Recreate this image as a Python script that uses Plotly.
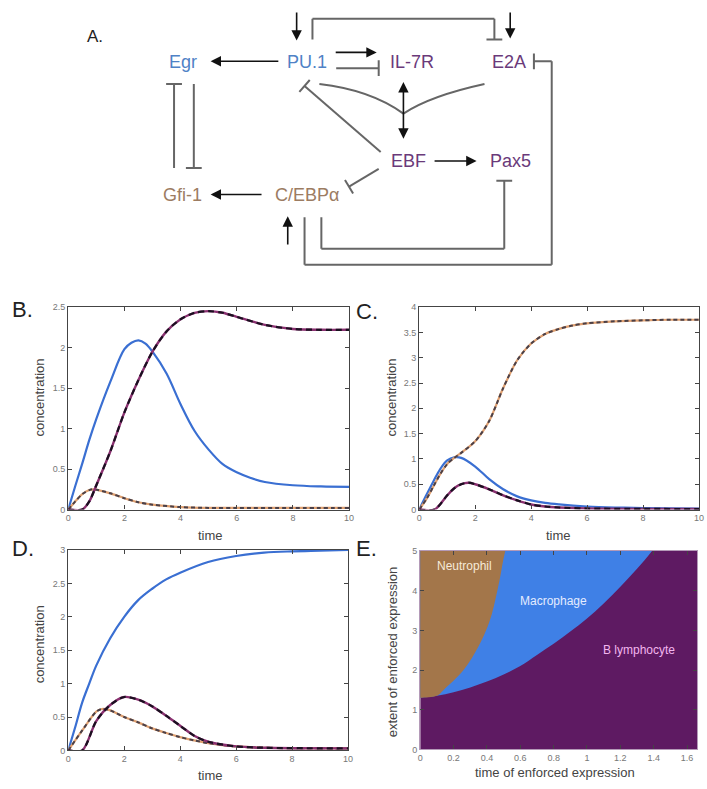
import plotly.graph_objects as go

W, H = 707, 789

# ---------------- data ----------------
# Panel B
tB_blue = [0, 0.25, 0.5, 0.75, 1, 1.5, 2, 2.25, 2.5, 2.75, 3, 3.5, 4, 4.5, 5, 5.5, 6, 6.5, 7, 8, 9, 10]
yB_blue = [0, 0.29, 0.57, 0.86, 1.12, 1.58, 1.98, 2.06, 2.09, 2.05, 1.95, 1.68, 1.3, 0.97, 0.74, 0.56, 0.46, 0.39, 0.34, 0.3, 0.285, 0.28]
tB_purple = [0, 0.5, 0.75, 1, 1.5, 2, 2.5, 3, 3.5, 4, 4.5, 5, 5.5, 6, 7, 8, 9, 10]
yB_purple = [0, 0, 0.1, 0.3, 0.72, 1.2, 1.6, 1.95, 2.2, 2.35, 2.43, 2.45, 2.43, 2.38, 2.28, 2.23, 2.22, 2.22]
tB_brown = [0, 0.25, 0.5, 0.75, 0.9, 1.5, 2, 2.5, 3, 4, 5, 6, 8, 10]
yB_brown = [0, 0.1, 0.19, 0.24, 0.25, 0.2, 0.14, 0.09, 0.06, 0.03, 0.02, 0.02, 0.02, 0.02]

# Panel C
tC_brown = [0, 0.25, 0.5, 0.75, 1, 1.25, 1.5, 2, 2.5, 3, 3.5, 4, 4.5, 5, 5.5, 6, 7, 8, 9, 10]
yC_brown = [0, 0.2, 0.45, 0.7, 0.9, 1.02, 1.12, 1.35, 1.75, 2.4, 2.95, 3.28, 3.47, 3.57, 3.64, 3.68, 3.72, 3.74, 3.75, 3.75]
tC_blue = [0, 0.25, 0.5, 0.75, 1, 1.25, 1.5, 2, 2.5, 3, 3.5, 4, 4.5, 5, 6, 7, 8, 10]
yC_blue = [0, 0.28, 0.55, 0.8, 0.97, 1.03, 1.02, 0.85, 0.6, 0.4, 0.26, 0.18, 0.13, 0.1, 0.06, 0.04, 0.03, 0.02]
tC_purple = [0, 0.55, 1, 1.25, 1.5, 1.75, 2, 2.5, 3, 3.5, 4, 4.5, 5, 6, 10]
yC_purple = [0, 0, 0.28, 0.42, 0.5, 0.53, 0.5, 0.4, 0.28, 0.18, 0.1, 0.06, 0.04, 0.02, 0.01]

# Panel D
tD_blue = [0, 0.25, 0.5, 0.75, 1, 1.5, 2, 2.5, 3, 3.5, 4, 5, 6, 7, 8, 9, 10]
yD_blue = [0, 0.35, 0.72, 1.0, 1.27, 1.68, 2.0, 2.25, 2.42, 2.56, 2.66, 2.82, 2.91, 2.96, 2.98, 2.99, 3.0]
tD_purple = [0, 0.5, 1, 1.5, 2, 2.5, 3, 3.5, 4, 4.5, 5, 6, 7, 10]
yD_purple = [0, 0, 0.44, 0.68, 0.8, 0.76, 0.66, 0.52, 0.37, 0.22, 0.13, 0.06, 0.04, 0.03]
tD_brown = [0, 0.5, 1, 1.2, 1.5, 2, 2.5, 3, 3.5, 4, 4.5, 5, 6, 7, 10]
yD_brown = [0, 0.3, 0.58, 0.62, 0.6, 0.5, 0.42, 0.33, 0.26, 0.2, 0.15, 0.11, 0.06, 0.04, 0.03]

# Panel E: phase boundaries (time of enforced expression, extent)
neut_x = [0.1, 0.14, 0.26, 0.35, 0.395, 0.43, 0.475, 0.51]
neut_y = [1.38, 1.5, 2.0, 2.6, 3.0, 3.42, 4.25, 5.0]
bcell_x = [0.0, 0.1, 0.2, 0.3, 0.4, 0.5, 0.6, 0.7, 0.8, 0.9, 1.0, 1.1, 1.2, 1.3, 1.39]
bcell_y = [1.3, 1.35, 1.44, 1.56, 1.71, 1.89, 2.1, 2.38, 2.66, 2.97, 3.3, 3.68, 4.1, 4.55, 5.0]
E_xmax, E_ymax = 1.66, 5
region_labels = ["Neutrophil", "Macrophage", "B lymphocyte"]
region_label_pos = [(0.265, 4.62), (0.8, 3.75), (1.31, 2.5)]

# Diagram A (pixel layout)
nodes = [("Egr", 182, 58, "#4f82c6"), ("PU.1", 307, 58, "#4f82c6"),
         ("IL-7R", 414, 58, "#6a3a7a"), ("E2A", 512, 58, "#6a3a7a"),
         ("EBF", 410, 158, "#6a3a7a"), ("Pax5", 513, 158, "#6a3a7a"),
         ("Gfi-1", 182, 192, "#9c7c62"), ("C/EBPα", 307, 192, "#9c7c62")]
arrows = [((280, 57), (210, 57)), ((335, 48), (378, 48)), ((297, 6), (297, 36)),
          ((513, 6), (513, 34)), ((435, 158), (479, 158)), ((263, 192), (210, 192)),
          ((288, 244), (288, 214))]
inhib_paths = [  # polyline points, bar at last point
    [(337, 64), (380, 64)],
    [(313, 35), (313, 14), (497, 14), (497, 35)],
    [(305, 215), (305, 263), (555, 263), (555, 57), (537, 57)],
    [(322, 215), (322, 247), (507, 247), (507, 178)],
    [(173, 165), (173, 80)],
    [(193, 80), (193, 165)],
    [(382, 149), (305, 82)],
    [(380, 166), (350, 184)],
]

def px(x):
    return x / W

def py(y):
    return 1 - y / H

fig = go.Figure()

BLUE = "#3a6fd2"
PURP = "#8a3070"
BROWN = "#e0a070"

def add_lines(ax, ay, t, v, kind):
    common = dict(xaxis=ax, yaxis=ay, mode="lines", showlegend=False, hoverinfo="skip")
    if kind == "blue":
        fig.add_trace(go.Scatter(x=t, y=v, line=dict(color=BLUE, width=2.2, shape="spline", smoothing=1), **common))
    elif kind == "purple":
        fig.add_trace(go.Scatter(x=t, y=v, line=dict(color=PURP, width=2.4, shape="spline", smoothing=0.8), **common))
        fig.add_trace(go.Scatter(x=t, y=v, line=dict(color="#1a1020", width=2.2, dash="6px,4px", shape="spline", smoothing=0.8), **common))
    else:
        fig.add_trace(go.Scatter(x=t, y=v, line=dict(color=BROWN, width=2.2, shape="spline", smoothing=0.8), **common))
        fig.add_trace(go.Scatter(x=t, y=v, line=dict(color="#4a4048", width=2.0, dash="4px,3px", shape="spline", smoothing=0.8), **common))

add_lines("x", "y", tB_blue, yB_blue, "blue")
add_lines("x", "y", tB_brown, yB_brown, "brown")
add_lines("x", "y", tB_purple, yB_purple, "purple")

add_lines("x2", "y2", tC_blue, yC_blue, "blue")
add_lines("x2", "y2", tC_brown, yC_brown, "brown")
add_lines("x2", "y2", tC_purple, yC_purple, "purple")

add_lines("x3", "y3", tD_blue, yD_blue, "blue")
add_lines("x3", "y3", tD_brown, yD_brown, "brown")
add_lines("x3", "y3", tD_purple, yD_purple, "purple")

# Panel E regions
fig.add_trace(go.Scatter(x=[0, E_xmax, E_xmax, 0, 0], y=[0, 0, E_ymax, E_ymax, 0], fill="toself",
                         fillcolor="#5e1a62", line=dict(width=0), mode="lines", xaxis="x4", yaxis="y4",
                         showlegend=False, hoverinfo="skip"))
blue_x = [-0.05] + bcell_x + [1.5, 1.5, -0.05, -0.05]
blue_y = [bcell_y[0] - 0.02] + bcell_y + [5.6, 5.6, 5.6, bcell_y[0] - 0.02]
fig.add_trace(go.Scatter(x=blue_x, y=blue_y, fill="toself", fillcolor="#3f80e6",
                         line=dict(width=0, shape="spline", smoothing=1),
                         mode="lines", xaxis="x4", yaxis="y4", showlegend=False, hoverinfo="skip"))
brown_x = [-0.05, bcell_x[0], bcell_x[1]] + neut_x[1:] + [0.56, -0.05, -0.05]
brown_y = [bcell_y[0], bcell_y[0], bcell_y[1]] + neut_y[1:] + [5.6, 5.6, bcell_y[0]]
fig.add_trace(go.Scatter(x=brown_x, y=brown_y, fill="toself", fillcolor="#a3764a",
                         line=dict(width=0, shape="spline", smoothing=1),
                         mode="lines", xaxis="x4", yaxis="y4", showlegend=False, hoverinfo="skip"))

label_colors = ["#f6ead8", "#e4ecff", "#f2b6ee"]
annotations = []
for lab, (lx, ly), lc in zip(region_labels, region_label_pos, label_colors):
    annotations.append(dict(x=lx, y=ly, xref="x4", yref="y4", text=lab, showarrow=False,
                            font=dict(size=12, color=lc, family="Liberation Sans, Arial")))

# axes
tickfont = dict(size=9, color="#777", family="Liberation Sans, Arial")
def axis(domain, rng, dtick, anchor, **kw):
    d = dict(domain=domain, range=rng, dtick=dtick, anchor=anchor, showgrid=False, zeroline=False,
             showline=True, linecolor="#444", linewidth=1.3, mirror="ticks", ticks="inside",
             ticklen=4, tickcolor="#444", tickfont=tickfont)
    d.update(kw)
    return d

layout = dict(width=W, height=H, margin=dict(l=0, r=0, t=0, b=0), paper_bgcolor="white",
              plot_bgcolor="white", showlegend=False)
layout["xaxis"] = axis([px(66), px(350)], [0, 10], 2, "y")
layout["yaxis"] = axis([py(511), py(306)], [0, 2.5], 0.5, "x")
layout["xaxis2"] = axis([px(421), px(704)], [0, 10], 2, "y2")
layout["yaxis2"] = axis([py(511), py(306)], [0, 4], 0.5, "x2")
layout["xaxis3"] = axis([px(66), px(349)], [0, 10], 2, "y3")
layout["yaxis3"] = axis([py(755), py(552)], [0, 3], 0.5, "x3")
layout["xaxis4"] = axis([px(422), px(702)], [0, E_xmax], 0.2, "y4", linecolor="#b49ab8")
layout["yaxis4"] = axis([py(754), py(553)], [0, E_ymax], 1, "x4", linecolor="#b49ab8")
layout["xaxis5"] = dict(domain=[0, 1], range=[0, W], visible=False, anchor="y5", fixedrange=True)
layout["yaxis5"] = dict(domain=[py(290), 1], range=[290, 0], visible=False, anchor="x5", fixedrange=True)

# invisible trace to activate diagram axes
fig.add_trace(go.Scatter(x=[0], y=[0], xaxis="x5", yaxis="y5", mode="markers", marker=dict(opacity=0),
                         showlegend=False, hoverinfo="skip"))

font_lbl = "Liberation Sans, Arial"
# axis titles
for (tx, ty, txt, rot) in [(210, 537, "time", 0), (562, 537, "time", 0), (210, 780, "time", 0),
                           (558, 777, "time of enforced expression", 0),
                           (37, 398, "concentration", -90), (393, 398, "concentration", -90),
                           (37, 648, "concentration", -90), (394, 655, "extent of enforced expression", -90)]:
    annotations.append(dict(x=px(tx), y=py(ty), xref="paper", yref="paper", text=txt, showarrow=False,
                            xanchor="center", yanchor="middle",
                            textangle=rot, font=dict(size=13, color="#444", family=font_lbl)))

# panel labels
for (tx, ty, txt) in [(93, 32, "A."), (20, 308, "B."), (368, 310, "C."), (20, 550, "D."), (368, 550, "E.")]:
    annotations.append(dict(x=px(tx), y=py(ty), xref="paper", yref="paper", text=txt, showarrow=False,
                            xanchor="center", yanchor="middle",
                            font=dict(size=22 if txt != "A." else 17, color="#222", family=font_lbl)))

# diagram nodes
for name, nx, ny, col in nodes:
    annotations.append(dict(x=nx, y=ny, xref="x5", yref="y5", text=name, showarrow=False,
                            xanchor="center", yanchor="middle",
                            font=dict(size=18, color=col, family=font_lbl)))

# diagram arrows
for (tail, head) in arrows:
    annotations.append(dict(x=head[0], y=head[1], ax=tail[0], ay=tail[1], xref="x5", yref="y5",
                            axref="x5", ayref="y5", text="", showarrow=True, arrowhead=2,
                            arrowsize=1.3, arrowwidth=1.6, arrowcolor="#111"))
# double arrow
annotations.append(dict(x=405, y=78, ax=405, ay=137, xref="x5", yref="y5", axref="x5", ayref="y5",
                        text="", showarrow=True, arrowhead=2, startarrowhead=2, arrowside="end+start",
                        arrowsize=1.3, arrowwidth=1.6, arrowcolor="#111"))

shapes = []
GRAY = "#666"
for path in inhib_paths:
    for (a, b) in zip(path[:-1], path[1:]):
        shapes.append(dict(type="line", xref="x5", yref="y5", x0=a[0], y0=a[1], x1=b[0], y1=b[1],
                           line=dict(color=GRAY, width=2)))
    (ax_, ay_), (bx, by) = path[-2], path[-1]
    dx, dy = bx - ax_, by - ay_
    n = (dx * dx + dy * dy) ** 0.5
    ux, uy = -dy / n * 8, dx / n * 8
    shapes.append(dict(type="line", xref="x5", yref="y5", x0=bx - ux, y0=by - uy, x1=bx + ux, y1=by + uy,
                       line=dict(color=GRAY, width=2)))
# converging curves onto double arrow
shapes.append(dict(type="path", xref="x5", yref="y5", path="M 320,80 Q 372,86 405,110",
                   line=dict(color=GRAY, width=2)))
shapes.append(dict(type="path", xref="x5", yref="y5", path="M 487,80 Q 432,92 405,110",
                   line=dict(color=GRAY, width=2)))

layout["annotations"] = annotations
layout["shapes"] = shapes
fig.update_layout(**layout)
fig.write_html("out.html", config={"displayModeBar": False},
               post_script="document.body.style.margin='0';document.body.style.overflow='hidden';")
